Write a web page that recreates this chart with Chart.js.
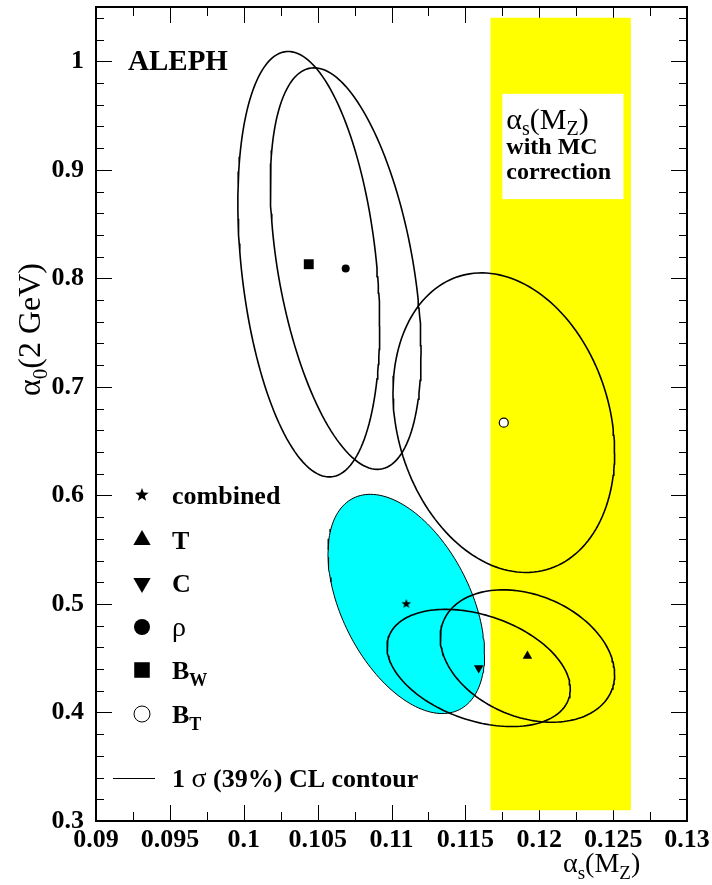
<!DOCTYPE html>
<html>
<head>
<meta charset="utf-8">
<script src="https://cdn.jsdelivr.net/npm/chart.js@4.4.1/dist/chart.umd.min.js"></script>
<style>
  body { margin: 0; background: #fff; }
  #wrap { width: 712px; height: 885px; }
</style>
</head>
<body>
<div id="wrap"><canvas id="chart" width="712" height="885"></canvas></div>
<script>
// fits: combined, T, C, rho, B_W, B_T
const fitNames = ['combined', 'T', 'C', 'rho', 'BW', 'BT'];
const alphaS = [0.1110, 0.1192, 0.1159, 0.1069, 0.1044, 0.1176];
const alpha0 = [0.500, 0.452, 0.441, 0.809, 0.813, 0.667];
// 1 sigma errors + correlation of each fit
const errS = [0.0053, 0.0059, 0.0062, 0.0051, 0.0048, 0.0075];
const err0 = [0.101, 0.061, 0.054, 0.185, 0.196, 0.138];
const corr = [-0.46, -0.28, -0.36, -0.42, -0.29, -0.20];

// alpha_s(MZ) band with MC correction
const bandS = [0.1167, 0.1262];
const bandY = [0.31, 1.04];

const xTicks = [0.09, 0.095, 0.1, 0.105, 0.11, 0.115, 0.12, 0.125, 0.13];
const xTickLabels = ['0.09', '0.095', '0.1', '0.105', '0.11', '0.115', '0.12', '0.125', '0.13'];
const yTicks = [0.3, 0.4, 0.5, 0.6, 0.7, 0.8, 0.9, 1.0];
const yTickLabels = ['0.3', '0.4', '0.5', '0.6', '0.7', '0.8', '0.9', '1'];

const SERIF = '"Liberation Serif", "DejaVu Serif", serif';

function contour(i) {
  const pts = [];
  const r = corr[i];
  for (let k = 0; k <= 160; k++) {
    const t = k / 160 * 2 * Math.PI;
    pts.push({
      x: alphaS[i] + errS[i] * Math.cos(t),
      y: alpha0[i] + err0[i] * (r * Math.cos(t) + Math.sqrt(1 - r * r) * Math.sin(t))
    });
  }
  return pts;
}

function starImage(r) {
  const c = document.createElement('canvas');
  const s = Math.ceil(r * 2 + 2);
  c.width = c.height = s;
  const g = c.getContext('2d');
  g.beginPath();
  for (let i = 0; i < 10; i++) {
    const rr = i % 2 ? r * 0.42 : r;
    const a = -Math.PI / 2 + i * Math.PI / 5;
    g.lineTo(s / 2 + rr * Math.cos(a), s / 2 + rr * Math.sin(a));
  }
  g.closePath();
  g.fillStyle = '#000';
  g.fill();
  return c;
}

// marker look, in plot and in legend
const markers = [
  { pointStyle: starImage(5), radius: 5, legend: { pointStyle: starImage(7), radius: 7 } },
  { pointStyle: 'triangle', radius: 5.5, legend: { pointStyle: 'triangle', radius: 10 } },
  { pointStyle: 'triangle', radius: 5.5, rotation: 180, legend: { pointStyle: 'triangle', radius: 10, rotation: 180 } },
  { pointStyle: 'circle', radius: 4, legend: { pointStyle: 'circle', radius: 8 } },
  { pointStyle: 'rect', radius: 7, legend: { pointStyle: 'rect', radius: 11 } },
  { pointStyle: 'circle', radius: 4.5, open: true, legend: { pointStyle: 'circle', radius: 8, open: true } }
];

const datasets = [];
fitNames.forEach((n, i) => {
  const m = markers[i];
  datasets.push({
    label: n,
    data: [{ x: alphaS[i], y: alpha0[i] }],
    showLine: false,
    pointStyle: m.pointStyle,
    pointRadius: m.radius,
    pointRotation: m.rotation || 0,
    pointBackgroundColor: m.open ? '#fff' : '#000',
    pointBorderColor: '#000',
    pointBorderWidth: m.open ? 1.2 : 0,
    order: 0
  });
});
fitNames.forEach((n, i) => {
  datasets.push({
    label: n + ' contour',
    data: contour(i),
    showLine: true,
    pointRadius: 0,
    borderColor: '#000',
    borderWidth: i === 0 ? 1 : 1.6,
    backgroundColor: '#00ffff',
    fill: i === 0 ? 'shape' : false,
    order: i === 0 ? 2 : 1
  });
});
datasets.push({
  label: 'band',
  data: [
    { x: bandS[0], y: bandY[0] }, { x: bandS[1], y: bandY[0] },
    { x: bandS[1], y: bandY[1] }, { x: bandS[0], y: bandY[1] },
    { x: bandS[0], y: bandY[0] }
  ],
  showLine: true,
  pointRadius: 0,
  borderWidth: 0,
  borderColor: 'rgba(0,0,0,0)',
  backgroundColor: '#ffff00',
  fill: 'shape',
  order: 3
});

function drawRich(ctx, x, y, parts) {
  let cx = x;
  parts.forEach(p => {
    ctx.font = p.f;
    ctx.fillText(p.t, cx, y + (p.dy || 0));
    cx += ctx.measureText(p.t).width;
  });
}

const B = s => 'bold ' + s + 'px ' + SERIF;
const N = s => s + 'px ' + SERIF;

const decor = {
  id: 'decor',
  beforeDatasetsDraw(chart) {
    const { ctx, chartArea: a, scales: { x, y } } = chart;
    ctx.save();
    ctx.strokeStyle = '#000';
    ctx.lineWidth = 1;
    ctx.beginPath();
    for (let k = 0; k <= 16; k++) {
      const px = Math.round(x.getPixelForValue(0.09 + k * 0.0025)) + 0.5;
      const len = k % 2 ? 9 : 16;
      ctx.moveTo(px, a.bottom); ctx.lineTo(px, a.bottom - len);
      ctx.moveTo(px, a.top); ctx.lineTo(px, a.top + len);
    }
    for (let k = 0; k <= 37; k++) {
      const py = Math.round(y.getPixelForValue(0.3 + k * 0.02)) + 0.5;
      const len = k % 5 ? 8 : 16;
      ctx.moveTo(a.left, py); ctx.lineTo(a.left + len, py);
      ctx.moveTo(a.right, py); ctx.lineTo(a.right - len, py);
    }
    ctx.stroke();
    ctx.lineWidth = 2;
    ctx.strokeRect(a.left, a.top, a.right - a.left, a.bottom - a.top);
    ctx.restore();
  },
  afterDatasetsDraw(chart) {
    const { ctx, scales: { x, y } } = chart;
    ctx.save();
    ctx.fillStyle = '#000';
    ctx.textBaseline = 'alphabetic';

    // label box inside the band
    const bx0 = x.getPixelForValue(0.1175), bx1 = x.getPixelForValue(0.1257);
    const by0 = y.getPixelForValue(0.970), by1 = y.getPixelForValue(0.873);
    ctx.fillStyle = '#fff';
    ctx.fillRect(bx0, by0, bx1 - bx0, by1 - by0);
    ctx.fillStyle = '#000';
    drawRich(ctx, bx0 + 4, by0 + 35, [
      { t: '\u03b1', f: N(30) }, { t: 's', f: N(20), dy: 6 },
      { t: '(M', f: N(30) }, { t: 'Z', f: N(20), dy: 6 }, { t: ')', f: N(30) }
    ]);
    drawRich(ctx, bx0 + 4, by0 + 60, [{ t: 'with MC', f: B(24) }]);
    drawRich(ctx, bx0 + 4, by0 + 85, [{ t: 'correction', f: B(24) }]);

    // experiment name
    drawRich(ctx, 128, 70, [{ t: 'ALEPH', f: B(29) }]);

    // legend
    const rows = [
      [{ t: 'combined', f: B(26) }],
      [{ t: 'T', f: B(26) }],
      [{ t: 'C', f: B(26) }],
      [{ t: '\u03c1', f: N(28) }],
      [{ t: 'B', f: B(26) }, { t: 'W', f: B(18), dy: 7 }],
      [{ t: 'B', f: B(26) }, { t: 'T', f: B(18), dy: 7 }]
    ];
    const rowY = [495, 540, 583, 627, 670, 714];
    rows.forEach((parts, i) => {
      const m = markers[i].legend;
      ctx.fillStyle = m.open ? '#fff' : '#000';
      ctx.strokeStyle = '#000';
      Chart.helpers.drawPoint(ctx, {
        pointStyle: m.pointStyle, radius: m.radius, rotation: m.rotation || 0,
        borderWidth: m.open ? 1.2 : 0
      }, 142, rowY[i]);
      ctx.fillStyle = '#000';
      drawRich(ctx, 172, rowY[i] + 9, parts);
    });
    ctx.lineWidth = 1.2;
    ctx.beginPath();
    ctx.moveTo(113, 778.5); ctx.lineTo(155, 778.5);
    ctx.stroke();
    drawRich(ctx, 172, 787, [
      { t: '1 ', f: B(26) }, { t: '\u03c3', f: N(28) }, { t: ' (39%) CL contour', f: B(26) }
    ]);

    // axis titles
    drawRich(ctx, 563, 872, [
      { t: '\u03b1', f: N(28) }, { t: 's', f: N(19), dy: 7 },
      { t: '(M', f: N(28) }, { t: 'Z', f: N(19), dy: 7 }, { t: ')', f: N(28) }
    ]);
    ctx.translate(40, 396);
    ctx.rotate(-Math.PI / 2);
    drawRich(ctx, 0, 0, [
      { t: '\u03b1', f: N(32) }, { t: '0', f: N(21), dy: 7 }, { t: '(2 GeV)', f: N(32) }
    ]);
    ctx.restore();
  }
};

new Chart(document.getElementById('chart'), {
  type: 'line',
  data: { datasets },
  options: {
    responsive: false,
    animation: false,
    events: [],
    layout: { padding: { left: 0, right: 25, top: 5, bottom: 0 } },
    plugins: { legend: { display: false }, tooltip: { enabled: false } },
    scales: {
      x: {
        type: 'linear',
        min: 0.09,
        max: 0.13,
        grid: { display: false, drawTicks: false },
        border: { display: false },
        afterBuildTicks: s => { s.ticks = xTicks.map(v => ({ value: v })); },
        afterFit: s => { s.height = 64; s.paddingLeft = 0; s.paddingRight = 0; },
        ticks: {
          padding: 4,
          maxRotation: 0,
          autoSkip: false,
          color: '#000',
          font: { family: SERIF, size: 26, weight: 'bold' },
          callback: (v, i) => xTickLabels[i]
        }
      },
      y: {
        type: 'linear',
        min: 0.3,
        max: 1.05,
        grid: { display: false, drawTicks: false },
        border: { display: false },
        afterBuildTicks: s => { s.ticks = yTicks.map(v => ({ value: v })); },
        afterFit: s => { s.width = 96; s.paddingTop = 0; s.paddingBottom = 0; },
        ticks: {
          padding: 12,
          autoSkip: false,
          color: '#000',
          font: { family: SERIF, size: 26, weight: 'bold' },
          callback: (v, i) => yTickLabels[i]
        }
      }
    }
  },
  plugins: [decor]
});
</script>
</body>
</html>
